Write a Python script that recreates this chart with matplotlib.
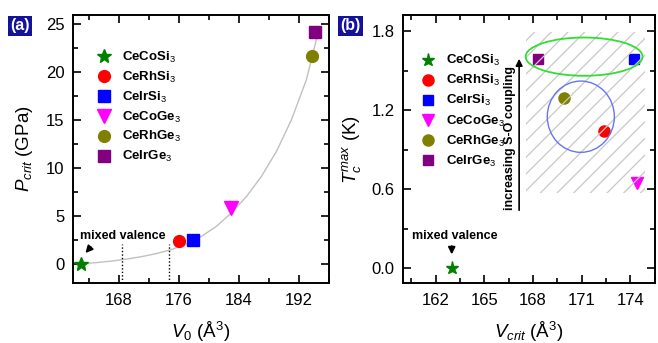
import matplotlib
matplotlib.use("Agg")
import matplotlib.pyplot as plt
from matplotlib.patches import Ellipse, Rectangle
from matplotlib.ticker import MultipleLocator, FormatStrFormatter

plt.rcParams["font.family"] = ["Liberation Sans", "DejaVu Sans"]
plt.rcParams["mathtext.fontset"] = "custom"
plt.rcParams["mathtext.rm"] = "Liberation Sans"
plt.rcParams["mathtext.it"] = "Liberation Sans:italic"
plt.rcParams["mathtext.bf"] = "Liberation Sans:bold"
plt.rcParams["hatch.linewidth"] = 0.9

# compounds and values
compounds = ["CeCoSi$_3$", "CeRhSi$_3$", "CeIrSi$_3$", "CeCoGe$_3$", "CeRhGe$_3$", "CeIrGe$_3$"]
colors = ["#008000", "#ff0000", "#0000ff", "#ff00ff", "#808000", "#800080"]
markers = ["*", "o", "s", "v", "o", "s"]

v0 = [162.9, 176.0, 177.9, 183.0, 193.8, 194.1]          # Å^3
p_crit = [0.0, 2.4, 2.5, 5.85, 21.6, 24.1]              # GPa

v_crit = [163.0, 172.4, 174.2, 174.4, 169.9, 168.3]     # Å^3
tc_max = [0.0, 1.04, 1.59, 0.65, 1.29, 1.59]            # K

# grey guide curve in (a)
fit_v = [162.9, 165, 167, 169, 171, 173, 175, 177, 179, 181, 183, 185, 187, 189, 191, 193, 194.4]
fit_p = [0.0, 0.12, 0.28, 0.48, 0.74, 1.06, 1.48, 2.05, 2.85, 3.9, 5.3, 7.0, 9.1, 11.7, 15.0, 19.2, 23.6]

# vertical dotted marks in (a)
mark_v = [168.4, 174.7]

ms_a = {"*": 10, "o": 8.5, "s": 8, "v": 9.5}
ms_b = {"*": 9.5, "o": 8, "s": 7.7, "v": 9}


def style_axes(ax):
    for sp in ax.spines.values():
        sp.set_linewidth(1.4)
    ax.tick_params(which="both", direction="in", top=True, right=True, labelsize=12, width=1.2)
    ax.tick_params(which="major", length=6)
    ax.tick_params(which="minor", length=3.5)
    ax.tick_params(axis="x", which="major", pad=7)
    ax.tick_params(axis="y", which="major", pad=6)


fig = plt.figure(figsize=(6.58, 3.43), dpi=100)
ax1 = fig.add_axes([0.111, 0.175, 0.389, 0.781])
ax2 = fig.add_axes([0.6125, 0.175, 0.3825, 0.781])

# ---- panel (a)
ax1.plot(fit_v, fit_p, color="#c0c0c0", lw=1.0, zorder=1)
ax1.vlines(mark_v, -2, 2.1, colors="k", linestyles=(0, (1, 1.5)), lw=1.0, zorder=1)
for name, c, m, x, y in zip(compounds, colors, markers, v0, p_crit):
    ax1.plot([x], [y], ls="none", marker=m, ms=ms_a[m], color=c, mec=c, label=name, zorder=3)
ax1.text(162.8, 2.6, "mixed valence", fontsize=9, fontweight="bold", ha="left", va="baseline")
ax1.annotate("", xy=(163.3, 0.9), xytext=(164.5, 1.95),
             arrowprops=dict(arrowstyle="-|>", color="k", lw=1.4, mutation_scale=10))
ax1.set_xlim(161.9, 196)
ax1.set_ylim(-2, 25.9)
ax1.xaxis.set_major_locator(MultipleLocator(8))
ax1.xaxis.set_minor_locator(MultipleLocator(4))
ax1.yaxis.set_major_locator(MultipleLocator(5))
ax1.yaxis.set_minor_locator(MultipleLocator(2.5))
style_axes(ax1)
ax1.set_xlabel("$V_0$ (Å$^3$)", fontsize=13.5, labelpad=9)
ax1.set_ylabel("$P_{crit}$ (GPa)", fontsize=13.5, labelpad=8)
ax1.legend(loc="upper left", bbox_to_anchor=(0.097, 0.87), frameon=False,
           prop={"weight": "bold", "size": 9.5}, handlelength=1.0, handletextpad=0.8,
           labelspacing=0.36, borderaxespad=0, borderpad=0, numpoints=1)

# ---- panel (b)
for name, c, m, x, y in zip(compounds, colors, markers, v_crit, tc_max):
    ax2.plot([x], [y], ls="none", marker=m, ms=ms_b[m], color=c, mec=c, label=name, zorder=3)
ax2.add_patch(Rectangle((167.55, 0.571), 174.9 - 167.55, 1.79 - 0.571, facecolor="none",
                        edgecolor="#c8c8c8", lw=0, hatch="//", zorder=4))
ax2.add_patch(Ellipse((171.15, 1.605), 7.2, 0.29, facecolor="none", edgecolor="#33dd33", lw=1.3, zorder=5))
ax2.add_patch(Ellipse((170.95, 1.15), 4.13, 0.54, facecolor="none", edgecolor="#6677ee", lw=1.0, zorder=5))
ax2.annotate("", xy=(167.15, 1.61), xytext=(167.15, 0.42),
             arrowprops=dict(arrowstyle="-|>", color="k", lw=1.2, mutation_scale=10))
ax2.text(166.6, 0.99, "increasing S-O coupling", rotation=90, fontsize=9, fontweight="bold",
         ha="center", va="center")
ax2.text(163.2, 0.22, "mixed valence", fontsize=9, fontweight="bold", ha="center", va="baseline")
ax2.annotate("", xy=(163.0, 0.085), xytext=(163.0, 0.19),
             arrowprops=dict(arrowstyle="-|>", color="k", lw=1.4, mutation_scale=10))
ax2.set_xlim(160, 175.5)
ax2.set_ylim(-0.11, 1.92)
ax2.xaxis.set_major_locator(MultipleLocator(3))
ax2.xaxis.set_minor_locator(MultipleLocator(1.5))
ax2.yaxis.set_major_locator(MultipleLocator(0.6))
ax2.yaxis.set_minor_locator(MultipleLocator(0.3))
ax2.yaxis.set_major_formatter(FormatStrFormatter("%.1f"))
style_axes(ax2)
ax2.set_xlabel("$V_{crit}$ (Å$^3$)", fontsize=13.5, labelpad=9)
ax2.set_ylabel("$T_c^{max}$ (K)", fontsize=13.5, labelpad=6)
ax2.legend(loc="upper left", bbox_to_anchor=(0.075, 0.858), frameon=False,
           prop={"weight": "bold", "size": 9.5}, handlelength=1.0, handletextpad=0.8,
           labelspacing=0.38, borderaxespad=0, borderpad=0, numpoints=1)

# panel labels
for xf, lab in [(0.030, "(a)"), (0.532, "(b)")]:
    fig.text(xf, 0.925, lab, color="white", fontsize=11.5, fontweight="bold", ha="center", va="center",
             bbox=dict(boxstyle="square,pad=0.15", facecolor="#12129a", edgecolor="none"))

fig.savefig("out.png", dpi=100)
